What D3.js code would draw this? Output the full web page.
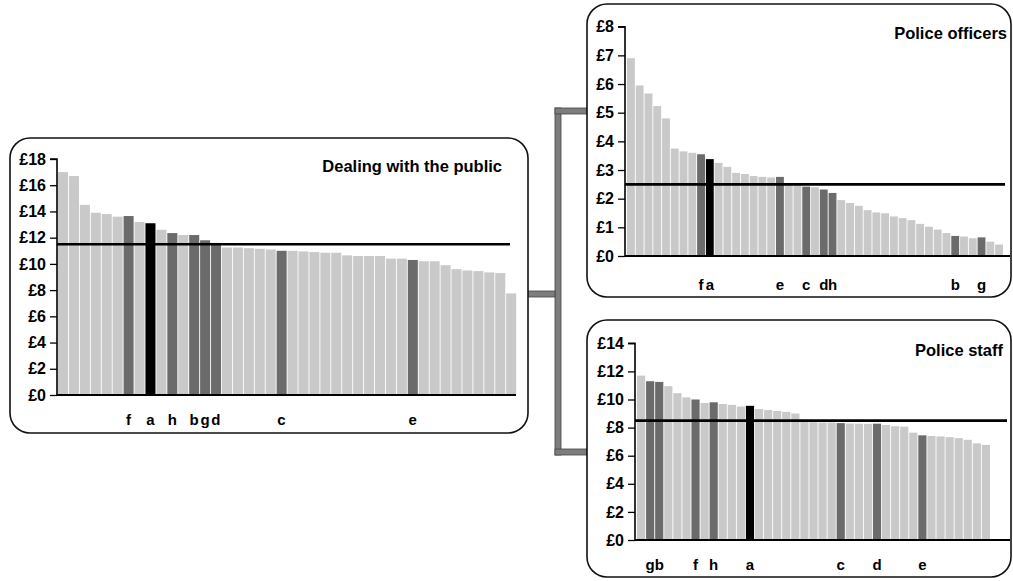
<!DOCTYPE html>
<html>
<head>
<meta charset="utf-8">
<script src="https://cdn.jsdelivr.net/npm/d3@7"></script>
<style>
  html, body { margin: 0; padding: 0; background: #fff; }
  svg { display: block; }
  text { font-family: "Liberation Sans", Arial, sans-serif; font-weight: bold; fill: #000; }
</style>
</head>
<body>
<svg id="chart" width="1013" height="581"></svg>
<script>
// ---------- DATA ----------
const dealingValues = [17.0, 16.7, 14.5, 13.9, 13.8, 13.6, 13.65, 13.2, 13.1, 12.6,
  12.35, 12.2, 12.2, 11.8, 11.6, 11.25, 11.25, 11.2, 11.15, 11.1,
  11.0, 11.0, 10.95, 10.9, 10.85, 10.85, 10.65, 10.6, 10.6, 10.6,
  10.4, 10.4, 10.3, 10.2, 10.2, 9.9, 9.6, 9.5, 9.45, 9.35,
  9.3, 7.75];
const dealingLabels = ["", "", "", "", "", "", "f", "", "a", "",
  "h", "", "b", "g", "d", "", "", "", "", "",
  "c", "", "", "", "", "", "", "", "", "",
  "", "", "e", "", "", "", "", "", "", "",
  "", ""];
const dealingAverage = 11.5;
const dealingTicks = [0, 2, 4, 6, 8, 10, 12, 14, 16, 18];

const officerValues = [6.9, 5.95, 5.67, 5.23, 4.8, 3.75, 3.65, 3.6, 3.55, 3.38,
  3.25, 3.11, 2.9, 2.86, 2.79, 2.76, 2.74, 2.76, 2.5, 2.47,
  2.42, 2.4, 2.32, 2.2, 1.95, 1.85, 1.75, 1.6, 1.52, 1.49,
  1.38, 1.32, 1.25, 1.12, 1.02, 0.92, 0.8, 0.7, 0.68, 0.62,
  0.65, 0.5, 0.4];
const officerLabels = ["", "", "", "", "", "", "", "", "f", "a",
  "", "", "", "", "", "", "", "e", "", "",
  "c", "", "d", "h", "", "", "", "", "", "",
  "", "", "", "", "", "", "", "b", "", "",
  "g", "", ""];
const officerAverage = 2.5;
const officerTicks = [0, 1, 2, 3, 4, 5, 6, 7, 8];

const staffValues = [11.7, 11.3, 11.25, 10.95, 10.45, 10.15, 10.0, 9.75, 9.8, 9.68,
  9.62, 9.5, 9.55, 9.32, 9.25, 9.18, 9.12, 9.0, 8.55, 8.38,
  8.36, 8.36, 8.32, 8.29, 8.28, 8.27, 8.28, 8.19, 8.1, 8.07,
  7.64, 7.45, 7.4, 7.37, 7.32, 7.25, 7.13, 6.88, 6.77];
const staffLabels = ["", "g", "b", "", "", "", "f", "", "h", "",
  "", "", "a", "", "", "", "", "", "", "",
  "", "", "c", "", "", "", "d", "", "", "",
  "", "e", "", "", "", "", "", "", ""];
const staffAverage = 8.5;
const staffTicks = [0, 2, 4, 6, 8, 10, 12, 14];

// ---------- DRAWING ----------
const svg = d3.select("#chart");
const LIGHT = "#c9c9c9", DARK = "#6b6b6b", BLACK = "#000";

// connector bracket
const conn = svg.append("g").attr("fill", "#7d7d7d").attr("stroke", "#444").attr("stroke-width", 0.8);
conn.append("rect").attr("x", 555).attr("y", 108).attr("width", 6).attr("height", 347);
conn.append("rect").attr("x", 555).attr("y", 108).attr("width", 32).attr("height", 6);
conn.append("rect").attr("x", 555).attr("y", 449).attr("width", 32).attr("height", 6);
conn.append("rect").attr("x", 527).attr("y", 291).attr("width", 28).attr("height", 6);

function panel(cfg) {
  const g = svg.append("g");
  g.append("rect")
    .attr("x", cfg.box[0]).attr("y", cfg.box[1])
    .attr("width", cfg.box[2] - cfg.box[0]).attr("height", cfg.box[3] - cfg.box[1])
    .attr("rx", 20).attr("ry", 20)
    .attr("fill", "#fff").attr("stroke", "#111").attr("stroke-width", 1.6);

  const y = d3.scaleLinear().domain([0, cfg.max]).range([cfg.y0, cfg.y1]);
  const x = d3.scaleBand().domain(d3.range(cfg.values.length))
    .range([cfg.x0, cfg.x1]).paddingInner(0.1).paddingOuter(0);

  const colorOf = (i) => cfg.labels[i] === "a" ? BLACK : (cfg.labels[i] ? DARK : LIGHT);

  g.append("g").selectAll("rect").data(cfg.values).join("rect")
    .attr("x", (d, i) => x(i))
    .attr("width", x.step() - 0.9)
    .attr("y", d => y(d))
    .attr("height", d => y(0) - y(d))
    .attr("fill", (d, i) => colorOf(i));

  g.append("line")
    .attr("x1", cfg.axisX).attr("x2", cfg.avgEnd)
    .attr("y1", y(cfg.avg)).attr("y2", y(cfg.avg))
    .attr("stroke", "#000").attr("stroke-width", 2.6);

  g.append("line")
    .attr("x1", cfg.axisX).attr("x2", cfg.baseEnd)
    .attr("y1", y(0)).attr("y2", y(0))
    .attr("stroke", "#000").attr("stroke-width", 2);

  const axis = d3.axisLeft(y).tickValues(cfg.ticks).tickSize(7).tickPadding(4)
    .tickFormat(d => "£" + d);
  const ag = g.append("g").attr("transform", `translate(${cfg.axisX},0)`).call(axis);
  ag.select(".domain").attr("stroke", "#000").attr("stroke-width", 1.6).attr("d", `M-7,${y(cfg.max)}H0V${y(0)}`);
  ag.selectAll(".tick line").attr("stroke", "#000").attr("stroke-width", 1.3);
  ag.selectAll(".tick text").attr("font-size", 16).attr("font-family", "'Liberation Sans', Arial, sans-serif")
    .attr("font-weight", "bold").attr("fill", "#000");

  g.append("g").selectAll("text").data(cfg.labels.map((l, i) => ({ l, i })).filter(o => o.l))
    .join("text")
    .attr("x", o => x(o.i) + x.bandwidth() / 2)
    .attr("y", cfg.labelY)
    .attr("text-anchor", "middle")
    .attr("font-size", 15)
    .text(o => o.l);

  g.append("text").attr("x", cfg.titleX).attr("y", cfg.titleY)
    .attr("text-anchor", "end").attr("font-size", 16.5).text(cfg.title);
}

panel({
  box: [10, 138, 528, 433], values: dealingValues, labels: dealingLabels, avg: dealingAverage,
  ticks: dealingTicks, max: 18, y0: 395, y1: 159, x0: 58, x1: 516, axisX: 57,
  avgEnd: 510, baseEnd: 516, labelY: 425, title: "Dealing with the public", titleX: 502, titleY: 172
});
panel({
  box: [587, 4, 1011, 297], values: officerValues, labels: officerLabels, avg: officerAverage,
  ticks: officerTicks, max: 8, y0: 256, y1: 26.7, x0: 627, x1: 1003, axisX: 625,
  avgEnd: 1005, baseEnd: 1010, labelY: 290, title: "Police officers", titleX: 1007, titleY: 39
});
panel({
  box: [587, 320, 1011, 577], values: staffValues, labels: staffLabels, avg: staffAverage,
  ticks: staffTicks, max: 14, y0: 540, y1: 343.3, x0: 637, x1: 990, axisX: 635,
  avgEnd: 1007, baseEnd: 1010, labelY: 570, title: "Police staff", titleX: 1003, titleY: 356
});
</script>
</body>
</html>
